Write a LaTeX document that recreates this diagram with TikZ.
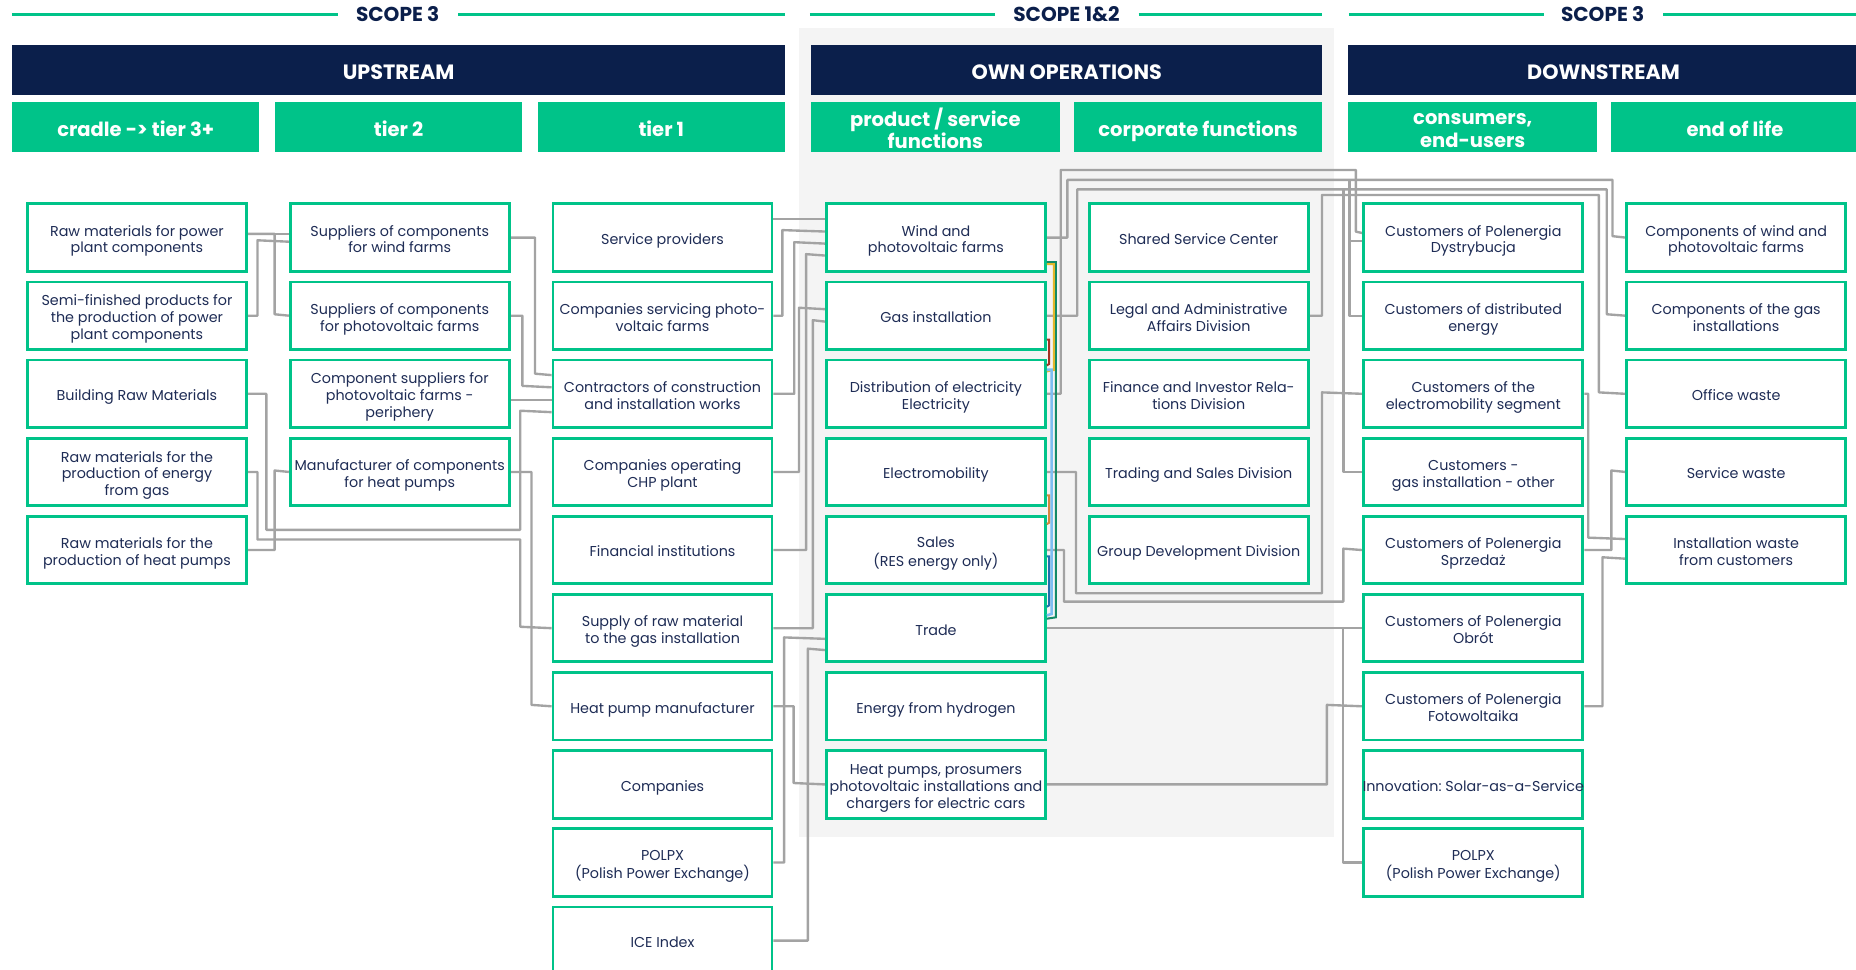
\documentclass[tikz,border=0pt]{standalone}
\usepackage{fontspec}
\setmainfont{Poppins}
\usetikzlibrary{calc}
\pgfdeclarelayer{back}
\pgfsetlayers{back,main}
\frenchspacing

\definecolor{brand}{HTML}{00C389}
\definecolor{navy}{HTML}{0B1F4B}
\definecolor{ink}{HTML}{1E2C55}
\definecolor{panel}{HTML}{F4F4F4}
\definecolor{wire}{HTML}{A3A3A3}
\definecolor{bgreen}{HTML}{138A66}
\definecolor{byellow}{HTML}{E2B82C}
\definecolor{bred}{HTML}{A33224}
\definecolor{blight}{HTML}{7DBEF2}
\definecolor{borange}{HTML}{D4863C}
\definecolor{bblue}{HTML}{1F6FAE}

% centred block of lines, strut-based height, lowered a little for optical centring;
% lines may run slightly wider than their box
\newcommand\lines[2][3pt]{\makebox[0pt]{\raisebox{-#1}[\height][\depth]{\begin{tabular}{@{}c@{}}#2\end{tabular}}}}

\tikzset{
  box/.style={draw=brand, line width=2.4pt, fill=white, anchor=north west,
    minimum width=185pt, minimum height=57pt, inner sep=0pt,
    text=ink, font=\fontsize{12.1}{14.2}\selectfont},
  bar/.style={fill=navy, anchor=north west, minimum height=42pt, inner sep=0pt,
    text=white, font=\bfseries\fontsize{17.5}{19}\selectfont},
  tab/.style={fill=brand, anchor=north west, minimum height=42pt, inner sep=0pt,
    text=white, font=\bfseries\fontsize{16.5}{19}\selectfont},
  scopelabel/.style={text=navy, font=\bfseries\fontsize{17}{18}\selectfont, inner sep=0pt},
  scopeline/.style={draw=brand, line width=2.6pt},
  conn/.style={draw=wire, line width=2pt, line join=round},
  brk/.style={line width=1.7pt, line join=miter},
}

\begin{document}
\begin{tikzpicture}[x=1pt,y=-1pt]
\useasboundingbox (0,0) rectangle (1568,819);

% shaded band behind own operations
\begin{pgfonlayer}{back}
\fill[panel] (675,24) rectangle (1127,707);
\end{pgfonlayer}

% scope titles
\node[scopelabel] (s1) at (336,12) {SCOPE 3};
\node[scopelabel] (s2) at (901,12) {SCOPE 1\&2};
\node[scopelabel] (s3) at (1354,12) {SCOPE 3};
\draw[scopeline] (10,12) -- (285.6,12);
\draw[scopeline] (387,12) -- (663,12);
\draw[scopeline] (684.3,12) -- (840.8,12);
\draw[scopeline] (962,12) -- (1116.8,12);
\draw[scopeline] (1139.5,12) -- (1304.4,12);
\draw[scopeline] (1405,12) -- (1568,12);

% value chain headers
\node[bar, minimum width=653pt] (hup) at (10,38) {\lines[4pt]{UPSTREAM}};
\node[bar, minimum width=432pt] (hown) at (685,38) {\lines[4pt]{OWN OPERATIONS}};
\node[bar, minimum width=431pt] (hdown) at (1139,38) {\lines[4pt]{DOWNSTREAM}};

\node[tab, minimum width=209pt] (t1) at (10,86) {\lines[4pt]{cradle -> tier 3+}};
\node[tab, minimum width=209pt] (t2) at (232,86) {\lines[4pt]{tier 2}};
\node[tab, minimum width=209pt] (t3) at (454,86) {\lines[4pt]{tier 1}};
\node[tab, minimum width=210pt] (t4) at (685,86) {\lines[4pt]{product / service\\functions}};
\node[tab, minimum width=210pt] (t5) at (907,86) {\lines[4pt]{corporate functions}};
\node[tab, minimum width=210pt] (t6) at (1139,86) {\lines[4pt]{consumers,\\end-users}};
\node[tab, minimum width=209pt] (t7) at (1361,86) {\lines[4pt]{end of life}};

% cradle -> tier 3+
\node[box] (c1r0) at (22,171) {\lines{Raw materials for power\\plant components}};
\node[box] (c1r1) at (22,237) {\lines{Semi-finished products for\\the production of power\\plant components}};
\node[box] (c1r2) at (22,303) {\lines{Building Raw Materials}};
\node[box] (c1r3) at (22,369) {\lines{Raw materials for the\\production of energy\\from gas}};
\node[box] (c1r4) at (22,435) {\lines{Raw materials for the\\production of heat pumps}};

% tier 2
\node[box] (c2r0) at (244,171) {\lines{Suppliers of components\\for wind farms}};
\node[box] (c2r1) at (244,237) {\lines{Suppliers of components\\for photovoltaic farms}};
\node[box] (c2r2) at (244,303) {\lines{Component suppliers for\\photovoltaic farms -\\periphery}};
\node[box] (c2r3) at (244,369) {\lines{Manufacturer of components\\for heat pumps}};

% tier 1
\node[box] (c3r0) at (466,171) {\lines{Service providers}};
\node[box] (c3r1) at (466,237) {\lines{Companies servicing photo-\\voltaic farms}};
\node[box] (c3r2) at (466,303) {\lines{Contractors of construction\\and installation works}};
\node[box] (c3r3) at (466,369) {\lines{Companies operating\\CHP plant}};
\node[box] (c3r4) at (466,435) {\lines{Financial institutions}};
\node[box] (c3r5) at (466,501) {\lines{Supply of raw material\\to the gas installation}};
\node[box] (c3r6) at (466,567) {\lines{Heat pump manufacturer}};
\node[box] (c3r7) at (466,633) {\lines{Companies}};
\node[box] (c3r8) at (466,699) {\lines{POLPX\\(Polish Power Exchange)}};
\node[box] (c3r9) at (466,765) {\lines{ICE Index}};

% product / service functions
\node[box] (c4r0) at (697,171) {\lines{Wind and\\photovoltaic farms}};
\node[box] (c4r1) at (697,237) {\lines{Gas installation}};
\node[box] (c4r2) at (697,303) {\lines{Distribution of electricity\\Electricity}};
\node[box] (c4r3) at (697,369) {\lines{Electromobility}};
\node[box] (c4r4) at (697,435) {\lines{Sales\\(RES energy only)}};
\node[box] (c4r5) at (697,501) {\lines{Trade}};
\node[box] (c4r6) at (697,567) {\lines{Energy from hydrogen}};
\node[box] (c4r7) at (697,633) {\lines{Heat pumps, prosumers\\photovoltaic installations and\\chargers for electric cars}};

% corporate functions
\node[box] (c5r0) at (919,171) {\lines{Shared Service Center}};
\node[box] (c5r1) at (919,237) {\lines{Legal and Administrative\\Affairs Division}};
\node[box] (c5r2) at (919,303) {\lines{Finance and Investor Rela-\\tions Division}};
\node[box] (c5r3) at (919,369) {\lines{Trading and Sales Division}};
\node[box] (c5r4) at (919,435) {\lines{Group Development Division}};

% consumers, end-users
\node[box] (c6r0) at (1151,171) {\lines{Customers of Polenergia\\Dystrybucja}};
\node[box] (c6r1) at (1151,237) {\lines{Customers of distributed\\energy}};
\node[box] (c6r2) at (1151,303) {\lines{Customers of the\\electromobility segment}};
\node[box] (c6r3) at (1151,369) {\lines{Customers -\\gas installation - other}};
\node[box] (c6r4) at (1151,435) {\lines{Customers of Polenergia\\Sprzedaż}};
\node[box] (c6r5) at (1151,501) {\lines{Customers of Polenergia\\Obrót}};
\node[box] (c6r6) at (1151,567) {\lines{Customers of Polenergia\\Fotowoltaika}};
\node[box] (c6r7) at (1151,633) {\lines{Innovation: Solar-as-a-Service}};
\node[box] (c6r8) at (1151,699) {\lines{POLPX\\(Polish Power Exchange)}};

% end of life
\node[box] (c7r0) at (1373,171) {\lines{Components of wind and\\photovoltaic farms}};
\node[box] (c7r1) at (1373,237) {\lines{Components of the gas\\installations}};
\node[box] (c7r2) at (1373,303) {\lines{Office waste}};
\node[box] (c7r3) at (1373,369) {\lines{Service waste}};
\node[box] (c7r4) at (1373,435) {\lines{Installation waste\\from customers}};

% junctions where one line feeds several boxes
\coordinate (w1) at (1140,152);
\coordinate (w2) at (1135,160);
\coordinate (w3) at (1134.6,529.5);

\begin{pgfonlayer}{back}
% upstream links
\draw[conn] ([yshift=3.1pt]c1r0.east) -- ([yshift=3.1pt]c2r0.west);
\draw[conn] ([yshift=3.1pt]c1r0.east) -| (232,265.5) -- (c2r1.west);
\draw[conn] (c1r1.east) -| (217.5,203) -- ([yshift=-3.5pt]c2r0.west);
\draw[conn] (c1r2.east) -| (225,447.6) -| (439.5,347) -- ([yshift=-15.5pt]c3r2.west);
\draw[conn] (c1r3.east) -| (217.5,455.8) -| (439.5,529.5) -- (c3r5.west);
\draw[conn] (c1r4.east) -| (232,397.5) -- (c2r3.west);
\draw[conn] (c2r0.east) -| (452,315.7) -- ([yshift=15.8pt]c3r2.west);
\draw[conn] (c2r1.east) -| (441.3,326) -- ([yshift=5.5pt]c3r2.west);
\draw[conn] ([yshift=-5.3pt]c2r2.east) -- ([yshift=-5.3pt]c3r2.west);
\draw[conn] (c2r3.east) -| (449,595.5) -- (c3r6.west);

% tier 1 to own operations
\draw[conn] ([yshift=15.5pt]c3r0.east) -- ([yshift=15.5pt]c4r0.west);
\draw[conn] (c3r1.east) -| (661,194.4) -- ([yshift=5.1pt]c4r0.west);
\draw[conn] (c3r2.east) -| (671,204.6) -- ([yshift=-5.1pt]c4r0.west);
\draw[conn] (c3r3.east) -| (675,260) -- ([yshift=5.5pt]c4r1.west);
\draw[conn] (c3r4.east) -| (681,214.7) -- ([yshift=-15.2pt]c4r0.west);
\draw[conn] (c3r5.east) -| (686.7,270.5) -- ([yshift=-5pt]c4r1.west);
\draw[conn] (c3r8.east) -| (662.4,538.5) -- ([yshift=-9pt]c4r5.west);
\draw[conn] (c3r9.east) -| (682.5,548) -- ([yshift=-18.5pt]c4r5.west);
\draw[conn] (c3r6.east) -| (670.5,661.5) -- (c4r7.west);

% own operations to downstream
\draw[conn] (c4r0.east) -| (901.7,152) -| (1362.3,199.5) -- (c7r0.west);
\draw[conn] (w1) |- ([yshift=-2.7pt]c6r0.west);
\draw[conn] (w1) |- (c6r1.west);
\draw[conn] (c4r1.east) -| (910.1,160) -| (1357.4,265.5) -- (c7r1.west);
\draw[conn] (w2) |- (c6r3.west);
\draw[conn] (c4r2.east) -| (896.1,143.6) -| (1145.5,195.7) -- ([yshift=3.8pt]c6r0.west);
\draw[conn] (c4r3.east) -| (909,501.2) -| (1116.8,331.5) -- (c6r2.west);
\draw[conn] (c4r4.east) -| (898.9,508.3) -| (1134.9,463.5) -- (c6r4.west);
\draw[conn] (c4r5.east) -- (c6r5.west);
\draw[conn] (w3) |- (c6r8.west);
\draw[conn] (c4r7.east) -| (1121,595.5) -- (c6r6.west);
\draw[conn] (c5r1.east) -| (1116.8,164.7) -| (1350.8,331.5) -- (c7r2.west);

% downstream to end of life
\draw[conn] (c6r2.east) -| (1341.8,454.2) -- ([yshift=9.3pt]c7r4.west);
\draw[conn] (c6r4.east) -| (1361.3,397.5) -- (c7r3.west);
\draw[conn] (c6r6.east) -| (1353.8,470.8) -- ([yshift=-7.3pt]c7r4.west);
\end{pgfonlayer}

% coloured brackets grouping own operations
\draw[brk, bgreen] ([yshift=-20.7pt]c4r0.east) -| (892.1,521.5) -- ([yshift=8pt]c4r5.east);
\draw[brk, byellow] ([yshift=-22.4pt]c4r0.east) -| (890.4,312.6) -- ([yshift=18.9pt]c4r2.east);
\draw[brk, blight, line width=2.2pt] ([yshift=20.3pt]c4r2.east) -| (888.4,518.7) -- ([yshift=10.8pt]c4r5.east);
\draw[brk, bred] ([yshift=-20.3pt]c4r1.east) -| (886.3,307.5) -- ([yshift=24pt]c4r2.east);
\draw[brk, borange] ([yshift=-19.8pt]c4r3.east) -| (886.3,441.6) -- ([yshift=21.9pt]c4r4.east);
\draw[brk, bblue] ([yshift=-5.4pt]c4r4.east) -| (886.3,511.4) -- ([yshift=18.1pt]c4r5.east);
\end{tikzpicture}
\end{document}
